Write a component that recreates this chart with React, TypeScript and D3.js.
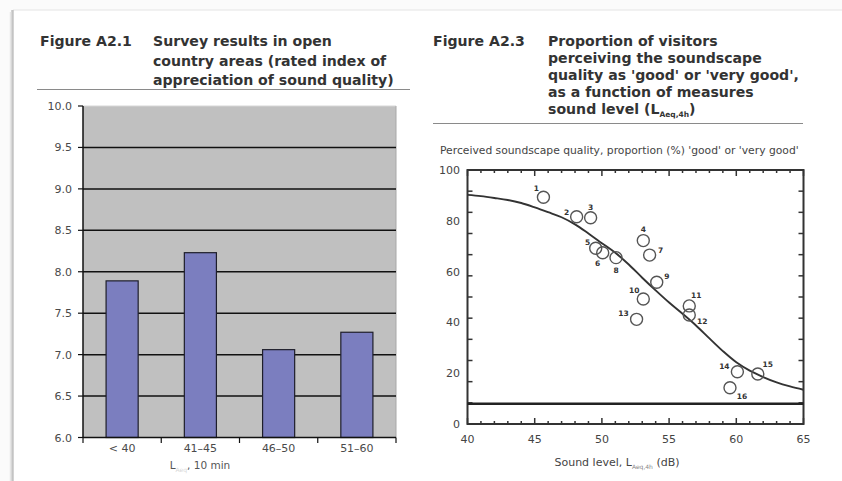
import React from 'react';
import * as d3 from 'd3';

// Figure A2.1 — rated index of appreciation of sound quality by noise band
const categories = ['< 40', '41–45', '46–50', '51–60'];
const ratings = [7.89, 8.23, 7.06, 7.27];
const ratingTicks = [6.0, 6.5, 7.0, 7.5, 8.0, 8.5, 9.0, 9.5, 10.0];

// Figure A2.3 — survey sites: sound level (dB) and share rating 'good'/'very good' (%)
const siteIds = ['1', '2', '3', '4', '5', '6', '7', '8', '9', '10', '11', '12', '13', '14', '15', '16'];
const siteLevels = [45.65, 48.12, 49.16, 53.08, 49.54, 50.06, 53.55, 51.05, 54.08, 53.08, 56.5, 56.5, 52.58, 60.08, 61.6, 59.53];
const siteProportions = [89.3, 81.6, 81.2, 72.2, 69.2, 67.4, 66.5, 65.5, 55.8, 49.2, 46.5, 42.9, 41.2, 20.6, 19.7, 14.3];

// fitted dose-response curve
const fitLevels = [40, 41, 42, 43, 44, 45, 46, 47, 48, 49, 50, 51, 52, 53, 54, 55, 56, 57, 58, 59, 60, 61, 62, 63, 64, 65];
const fitProportions = [90.2, 89.7, 89.0, 88.2, 87.0, 85.3, 83.4, 81.4, 78.6, 75.0, 71.2, 67.4, 62.8, 57.6, 52.6, 47.8, 43.4, 38.8, 33.7, 28.7, 24.3, 21.0, 18.5, 16.4, 14.8, 13.5];
const referenceLevel = 8;

const levelTicks = [40, 45, 50, 55, 60, 65];
const proportionTicks = [0, 20, 40, 60, 80, 100];

// label placement around each site marker (dx, dy)
const labelOffsets: [number, number][] = [
  [-7, -9], [-10, -4], [0, -10], [0, -11], [-8, -6], [-5, 11], [11, -5], [0, 13],
  [10, -6], [-9, -9], [7, -10], [13, 6], [-13, -6], [-13, -5], [10, -9], [12, 9],
];

const FONT = "'DejaVu Sans', Verdana, sans-serif";

export default function App() {
  // ---- left panel scales
  const bandX = d3.scaleBand<string>().domain(categories).range([83, 396]).padding(0);
  const rateY = d3.scaleLinear().domain([6, 10]).range([437.5, 106]);
  const barW = bandX.bandwidth() * 0.41;

  // ---- right panel scales
  const lx = d3.scaleLinear().domain([40, 65]).range([467.5, 803.5]);
  const py = d3.scaleLinear().domain([0, 100]).range([424, 170]);
  const fitLine = d3
    .line<number>()
    .x((_, i) => lx(fitLevels[i]))
    .y((d) => py(d))
    .curve(d3.curveCatmullRom.alpha(0.5));

  const minorLevels = d3.range(40, 66, 1);
  const sideTicks = d3.range(1, 12).map((k) => (100 * k) / 12);

  const boundaries = [...categories.map((c) => bandX(c) as number), 396];

  return (
    <svg
      width={842}
      height={481}
      style={{ position: 'absolute', left: 0, top: 0, background: '#fbfbfb' }}
      fontFamily={FONT}
    >
      {/* page */}
      <rect x={13} y={10} width={829} height={471} fill="#ffffff" />
      <line x1={13} y1={10} x2={842} y2={10} stroke="#ececec" strokeWidth={1.5} />
      <line x1={12.5} y1={10} x2={12.5} y2={481} stroke="#c4c4c4" strokeWidth={2.5} />
      <line x1={10.5} y1={12} x2={10.5} y2={481} stroke="#e6e6e6" strokeWidth={1.5} />

      {/* ---------- Figure A2.1 ---------- */}
      <g fill="#333" fontWeight="bold" fontSize={14.1}>
        <text x={40} y={46}>Figure A2.1</text>
        <text x={153} y={46}>Survey results in open</text>
        <text x={153} y={65.5}>country areas (rated index of</text>
        <text x={153} y={85}>appreciation of sound quality)</text>
      </g>
      <line x1={37} y1={89.5} x2={410} y2={89.5} stroke="#8a8a8a" strokeWidth={1} />

      <rect x={83} y={106} width={313} height={331.5} fill="#c0c0c0" />
      <line x1={83} y1={106} x2={396} y2={106} stroke="#d6d6d6" />
      <line x1={396} y1={106} x2={396} y2={437.5} stroke="#a8a8a8" />
      {ratingTicks
        .filter((t) => t > 6 && t < 10)
        .map((t) => (
          <line key={t} x1={83} x2={396} y1={rateY(t)} y2={rateY(t)} stroke="#111" strokeWidth={1.5} />
        ))}
      {categories.map((c, i) => {
        const x0 = (bandX(c) as number) + (bandX.bandwidth() - barW) / 2;
        return (
          <rect
            key={c}
            x={x0}
            y={rateY(ratings[i])}
            width={barW}
            height={rateY(6) - rateY(ratings[i])}
            fill="#7b7ebf"
            stroke="#1e1e2a"
            strokeWidth={1.2}
          />
        );
      })}
      <line x1={83} y1={106} x2={83} y2={438} stroke="#111" strokeWidth={1.5} />
      <line x1={83} y1={437.5} x2={396} y2={437.5} stroke="#111" strokeWidth={1.5} />
      {ratingTicks.map((t) => (
        <g key={t}>
          <line x1={78} x2={83} y1={rateY(t)} y2={rateY(t)} stroke="#111" strokeWidth={1.2} />
          <text x={72} y={rateY(t) + 4} textAnchor="end" fontSize={11} fill="#4a4a4a">
            {t.toFixed(1)}
          </text>
        </g>
      ))}
      {boundaries.map((b, i) => (
        <line key={i} x1={b} x2={b} y1={437.5} y2={443} stroke="#111" strokeWidth={1.2} />
      ))}
      {categories.map((c) => (
        <text
          key={c}
          x={(bandX(c) as number) + bandX.bandwidth() / 2}
          y={452}
          textAnchor="middle"
          fontSize={11}
          fill="#4a4a4a"
        >
          {c}
        </text>
      ))}
      <text x={200} y={469} textAnchor="middle" fontSize={10.5} fill="#555">
        L<tspan fontSize={6} dy={3} fill="#d8d8d8">Aeq</tspan>
        <tspan dy={-3}>, 10 min</tspan>
      </text>

      {/* ---------- Figure A2.3 ---------- */}
      <g fill="#333" fontWeight="bold" fontSize={14.1}>
        <text x={433} y={45.5}>Figure A2.3</text>
        <text x={548} y={45.5}>Proportion of visitors</text>
        <text x={548} y={62.5}>perceiving the soundscape</text>
        <text x={548} y={79.5}>quality as 'good' or 'very good',</text>
        <text x={548} y={97}>as a function of measures</text>
        <text x={548} y={114}>
          sound level (L<tspan fontSize={7.5} dy={3}>Aeq,4h</tspan>
          <tspan dy={-3}>)</tspan>
        </text>
      </g>
      <line x1={433} y1={123.5} x2={803} y2={123.5} stroke="#8a8a8a" strokeWidth={1} />

      <text x={440} y={153.5} fontSize={10.75} fill="#444">
        Perceived soundscape quality, proportion (%) 'good' or 'very good'
      </text>

      {/* plot frame */}
      <rect x={lx(40)} y={py(100)} width={lx(65) - lx(40)} height={py(0) - py(100)} fill="none" stroke="#333" strokeWidth={2} />
      {minorLevels.map((v) => {
        const len = v % 5 === 0 ? 6 : 3;
        return (
          <g key={v} stroke="#333" strokeWidth={1.5}>
            <line x1={lx(v)} x2={lx(v)} y1={py(0)} y2={py(0) - len} />
            <line x1={lx(v)} x2={lx(v)} y1={py(100)} y2={py(100) + len} />
          </g>
        );
      })}
      {sideTicks.map((v) => (
        <g key={v} stroke="#333" strokeWidth={1.5}>
          <line x1={lx(40)} x2={lx(40) + 5} y1={py(v)} y2={py(v)} />
          <line x1={lx(65)} x2={lx(65) - 5} y1={py(v)} y2={py(v)} />
        </g>
      ))}
      <line x1={lx(40)} x2={lx(65)} y1={py(referenceLevel)} y2={py(referenceLevel)} stroke="#222" strokeWidth={2.6} />

      {proportionTicks.map((t) => (
        <text key={t} x={460} y={py(t) + 4} textAnchor="end" fontSize={11} fill="#444">
          {t}
        </text>
      ))}
      {levelTicks.map((t) => (
        <text key={t} x={lx(t)} y={443} textAnchor="middle" fontSize={11} fill="#444">
          {t}
        </text>
      ))}
      <text x={617} y={466} textAnchor="middle" fontSize={11} fill="#444">
        Sound level, L<tspan fontSize={6} dy={3} fill="#888">Aeq,4h</tspan>
        <tspan dy={-3}> (dB)</tspan>
      </text>

      <path d={fitLine(fitProportions) ?? ''} fill="none" stroke="#333" strokeWidth={1.9} />

      {siteIds.map((id, i) => (
        <g key={id}>
          <circle cx={lx(siteLevels[i])} cy={py(siteProportions[i])} r={6} fill="none" stroke="#555" strokeWidth={1.4} />
          <text
            x={lx(siteLevels[i]) + labelOffsets[i][0]}
            y={py(siteProportions[i]) + labelOffsets[i][1] + 2.5}
            textAnchor="middle"
            fontSize={7.5}
            fontWeight="bold"
            fill="#333"
          >
            {id}
          </text>
        </g>
      ))}
    </svg>
  );
}
